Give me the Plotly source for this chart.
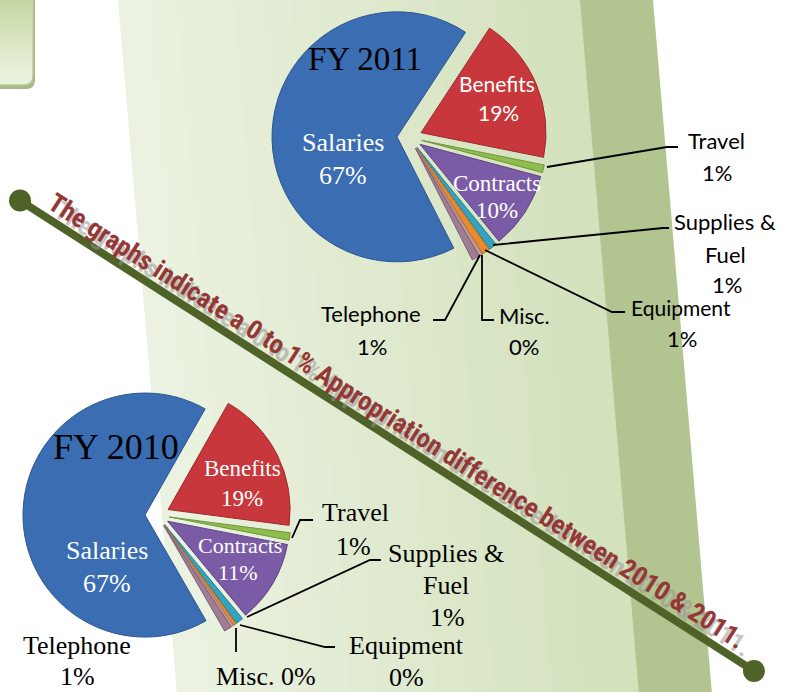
import plotly.graph_objects as go

W, H = 797, 692

# ---------------- data ----------------
categories = ["Salaries", "Benefits", "Travel", "Contracts",
              "Supplies & Fuel", "Equipment", "Misc.", "Telephone"]
fy2011_values = [67, 19, 1, 10, 1, 1, 0.4, 1]
fy2010_values = [67, 19, 1, 11, 1, 0.4, 0.3, 1]
fy2011_pct = [67, 19, 1, 10, 1, 1, 0, 1]
fy2010_pct = [67, 19, 1, 11, 1, 0, 0, 1]
chart_titles = ["FY 2011", "FY 2010"]
slice_colors = ["#3b6db3", "#c8373b", "#8fbc4f", "#7b5ba6",
                "#34a3bf", "#e98a2c", "#c99a9c", "#a07d94"]
edge_colors = ["#2c5590", "#9c2a2d", "#6f9637", "#5e4482",
               "#267f96", "#b86a1f", "#a57b7d", "#7e6075"]
message = "The graphs indicate a 0 to 1% Appropriation difference between 2010 & 2011."


def px(x):
    return x / W


def py(y):
    return 1 - y / H


fig = go.Figure()

# ---------------- pies ----------------
pie_common = dict(labels=categories, sort=False, direction="clockwise",
                  textinfo="none", hoverinfo="label+percent", showlegend=False,
                  marker=dict(colors=slice_colors, line=dict(color=edge_colors, width=1)))

fig.add_trace(go.Pie(values=fy2011_values, rotation=153, pull=[0.1] * 8,
                     domain=dict(x=[px(272), px(547)], y=[py(275), 1.0]),
                     name=chart_titles[0], **pie_common))
fig.add_trace(go.Pie(values=fy2010_values, rotation=150, pull=[0.1] * 8,
                     domain=dict(x=[px(23), px(291.4)], y=[py(649.2), py(380.8)]),
                     name=chart_titles[1], **pie_common))

shapes = []

# ---------------- background ----------------
def band_color(t):
    c0 = (0xEB, 0xF2, 0xE1)
    c1 = (0xD3, 0xE1, 0xBC)
    return "rgb(%d,%d,%d)" % tuple(round(a + (b - a) * t) for a, b in zip(c0, c1))

N = 16
slope = 0.085
L0, S0, R0 = 118, 580, 653
for i in range(N):
    xa = L0 + (S0 - L0) * i / N
    xb = L0 + (S0 - L0) * (i + 1) / N + 1
    path = "M %f %f L %f %f L %f %f L %f %f Z" % (
        px(xa), py(0), px(xb), py(0), px(xb + slope * H), py(H), px(xa + slope * H), py(H))
    shapes.append(dict(type="path", path=path, xref="paper", yref="paper",
                       fillcolor=band_color(i / (N - 1)), line=dict(width=0), layer="below"))
# dark strip
path = "M %f %f L %f %f L %f %f L %f %f Z" % (
    px(S0), py(0), px(R0), py(0), px(R0 + slope * H), py(H), px(S0 + slope * H), py(H))
shapes.append(dict(type="path", path=path, xref="paper", yref="paper",
                   fillcolor="#b2c48f", line=dict(width=0), layer="below"))

# top-left rounded box
def rounded_box(x0, y0, x1, y1, r):
    return ("M %f %f L %f %f L %f %f Q %f %f %f %f L %f %f Z" % (
        px(x0), py(y0), px(x1), py(y0), px(x1), py(y1 - r),
        px(x1), py(y1), px(x1 - r), py(y1), px(x0), py(y1)))

shapes.append(dict(type="path", path=rounded_box(-5, -5, 35, 89, 9), xref="paper", yref="paper",
                   fillcolor="#a9b98b", line=dict(width=0), layer="below"))
shapes.append(dict(type="path", path=rounded_box(-5, -5, 33, 85, 9), xref="paper", yref="paper",
                   fillcolor="#e9f0dc", line=dict(color="#b7ca95", width=1.5), layer="below"))
NB = 10
for i in range(NB):
    ya = -5 + 80 * i / NB
    yb = -5 + 80 * (i + 1) / NB + 1
    t = i / (NB - 1)
    c0 = (0xC4, 0xD7, 0xA0)
    c1 = (0xE9, 0xF0, 0xDC)
    col = "rgb(%d,%d,%d)" % tuple(round(a + (b - a) * t) for a, b in zip(c0, c1))
    shapes.append(dict(type="rect", x0=px(-5), x1=px(32), y0=py(yb), y1=py(ya),
                       xref="paper", yref="paper", fillcolor=col, line=dict(width=0), layer="below"))

# ---------------- diagonal line ----------------
lx0, ly0, lx1, ly1 = 20, 200.5, 754, 671
shapes.append(dict(type="line", x0=px(lx0), y0=py(ly0), x1=px(lx1), y1=py(ly1),
                   xref="paper", yref="paper", line=dict(color="#4f6228", width=8)))
for cx, cy in [(lx0, ly0), (lx1, ly1)]:
    shapes.append(dict(type="circle", x0=px(cx - 11), x1=px(cx + 11), y0=py(cy + 11), y1=py(cy - 11),
                       xref="paper", yref="paper", fillcolor="#4f6228", line=dict(width=0)))

# ---------------- leader lines ----------------
leaders = [
    # FY 2011
    [(547, 167), (667, 147), (678, 147)],
    [(493, 245), (663, 228), (669, 228)],
    [(485, 250), (612, 312), (625, 312)],
    [(482, 255), (482, 320), (494, 320)],
    [(480, 255), (445, 320), (433, 320)],
    # FY 2010
    [(292, 538), (300, 520), (313, 520)],
    [(247, 617), (370, 560), (381, 560)],
    [(240, 625), (325, 647), (335, 647)],
    [(236, 628), (236, 652)],
]
for pts in leaders:
    path = "M " + " L ".join("%f %f" % (px(x), py(y)) for x, y in pts)
    shapes.append(dict(type="path", path=path, xref="paper", yref="paper",
                       line=dict(color="black", width=1.8)))

# ---------------- annotations ----------------
annotations = []
SANS = "Lato, Carlito, Noto Sans, sans-serif"
SERIF = "Liberation Serif, Times New Roman, serif"


def label(x, y, text, size, family, color="black"):
    annotations.append(dict(x=px(x), y=py(y), xref="paper", yref="paper", text=text,
                            showarrow=False, xanchor="center", yanchor="middle",
                            font=dict(size=size, family=family, color=color)))


def pct(v):
    return "%d%%" % v


# FY 2011
label(365, 59, chart_titles[0], 33, SERIF)
label(343, 143, categories[0], 26, SERIF, "white")
label(343, 175, pct(fy2011_pct[0]), 26, SERIF, "white")
label(497, 83, categories[1], 21, SANS, "white")
label(498, 113, pct(fy2011_pct[1]), 21, SANS, "white")
label(497, 183, categories[3], 23, SERIF, "white")
label(497, 210, pct(fy2011_pct[3]), 23, SERIF, "white")
label(716, 140, categories[2], 22, SANS)
label(717, 172, pct(fy2011_pct[2]), 22, SANS)
label(725, 222, "Supplies &", 22, SANS)
label(725, 254, "Fuel", 22, SANS)
label(727, 285, pct(fy2011_pct[4]), 22, SANS)
label(681, 307, categories[5], 21, SANS)
label(682, 338, pct(fy2011_pct[5]), 22, SANS)
label(524, 315, categories[6], 22, SANS)
label(524, 346, pct(fy2011_pct[6]), 22, SANS)
label(371, 313, categories[7], 22, SANS)
label(372, 347, pct(fy2011_pct[7]), 22, SANS)

# FY 2010
label(116, 447, chart_titles[1], 36, SERIF)
label(107, 550, categories[0], 26, SERIF, "white")
label(107, 583, pct(fy2010_pct[0]), 26, SERIF, "white")
label(242, 468, categories[1], 23, SERIF, "white")
label(242, 498, pct(fy2010_pct[1]), 23, SERIF, "white")
label(240, 545, categories[3], 22, SERIF, "white")
label(238, 572, pct(fy2010_pct[3]), 22, SERIF, "white")
label(355, 512, categories[2], 26, SERIF)
label(353, 546, pct(fy2010_pct[2]), 26, SERIF)
label(446, 553, "Supplies &", 26, SERIF)
label(446, 585, "Fuel", 26, SERIF)
label(447, 617, pct(fy2010_pct[4]), 26, SERIF)
label(406, 645, categories[5], 26, SERIF)
label(407, 677, pct(fy2010_pct[5]), 26, SERIF)
label(77, 645, categories[7], 26, SERIF)
label(77, 676, pct(fy2010_pct[7]), 26, SERIF)
label(266, 676, categories[6] + " " + pct(fy2010_pct[6]), 26, SERIF)

# diagonal message with grey shadow
ANG = 32.6
NARROW = "Liberation Sans Narrow, Arial Narrow, Roboto Condensed, Liberation Sans, sans-serif"
for dx, dy, col in [(6, 8, "rgba(150,150,150,0.55)"), (0, 0, "#953735")]:
    annotations.append(dict(x=px(397 + dx), y=py(420 + dy), xref="paper", yref="paper",
                            text=message, showarrow=False, textangle=ANG,
                            xanchor="center", yanchor="middle",
                            font=dict(size=26.5, family=NARROW, color=col, weight="bold")))

fig.update_layout(width=W, height=H, margin=dict(l=0, r=0, t=0, b=0),
                  paper_bgcolor="white", plot_bgcolor="white",
                  shapes=shapes, annotations=annotations, showlegend=False)

fig.write_html("out.html", config={"displayModeBar": False},
               post_script="document.body.style.margin='0px';")
